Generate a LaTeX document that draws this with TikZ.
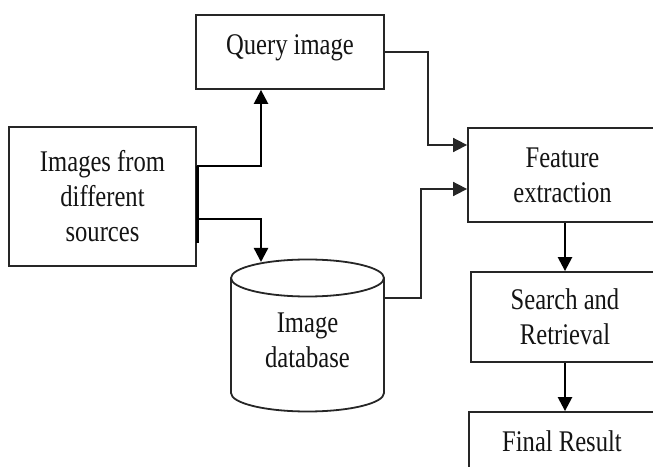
\documentclass[tikz,border=0pt]{standalone}
\usepackage{fontspec}
\setmainfont{Liberation Serif}[FakeStretch=0.82]
\usetikzlibrary{arrows.meta,calc}
\begin{document}
\begin{tikzpicture}[x=1pt,y=1pt,
  box/.style={draw=black!85, line width=1.8pt, rectangle, inner sep=0pt, align=center,
    font=\fontsize{30}{35}\selectfont, text=black!92},
  conn/.style={draw=black, line width=2.4pt, -{Triangle[length=14pt,width=14pt]}},
  connthin/.style={draw=black!85, line width=1.7pt, -{Triangle[length=14pt,width=14pt]}},
  plain/.style={draw=black!85, line width=1.7pt}]
\useasboundingbox (0,0) rectangle (653,466);
\clip (0,0) rectangle (653,466);
\fill[white] (0,0) rectangle (653,466);

\node[box, minimum width=188pt, minimum height=74pt, text depth=14pt] (query) at (290,414) {Query image};
\node[box, minimum width=187pt, minimum height=139pt] (images) at (102.5,269.5) {Images from\\different\\sources};
\node[box, minimum width=189pt, minimum height=94pt] (feature) at (562.5,291) {Feature\\extraction};
\node[box, minimum width=188pt, minimum height=90pt] (search) at (565,149) {Search and\\Retrieval};
\node[box, minimum width=186pt, minimum height=58pt] (final) at (562,25) {Final Result};

% cylinder
\node[box, draw=none, minimum width=153pt] (db) at (307.5,126) {Image\\database};
\draw[plain, line width=1.8pt] (231,188) -- (231,73) arc[start angle=180,end angle=360,x radius=76.5,y radius=18.5] -- (384,188);
\draw[plain, line width=1.8pt] (307.5,188) ellipse[x radius=76.5,y radius=18.5];
\coordinate (dbtop) at (261,204);
\coordinate (dbright) at (384,168);

% connectors
\draw[conn] ([yshift=30.5pt]images.east) -| ([xshift=-29pt]query.south);
\draw[conn] ([yshift=-22.5pt]images.east) -| (dbtop);
\draw[line width=3pt, black] ([xshift=1pt,yshift=30.5pt]images.east) -- ([xshift=1pt,yshift=-46.5pt]images.east);
\draw[connthin] (query.east) -- ++(43,0) |- ([yshift=30pt]feature.west);
\draw[connthin] (dbright) -- ++(37,0) |- ([yshift=-14pt]feature.west);
\draw[conn] (search.north |- feature.south) -- (search.north);
\draw[conn] (search.south) -- (search.south |- final.north);
\end{tikzpicture}
\end{document}
